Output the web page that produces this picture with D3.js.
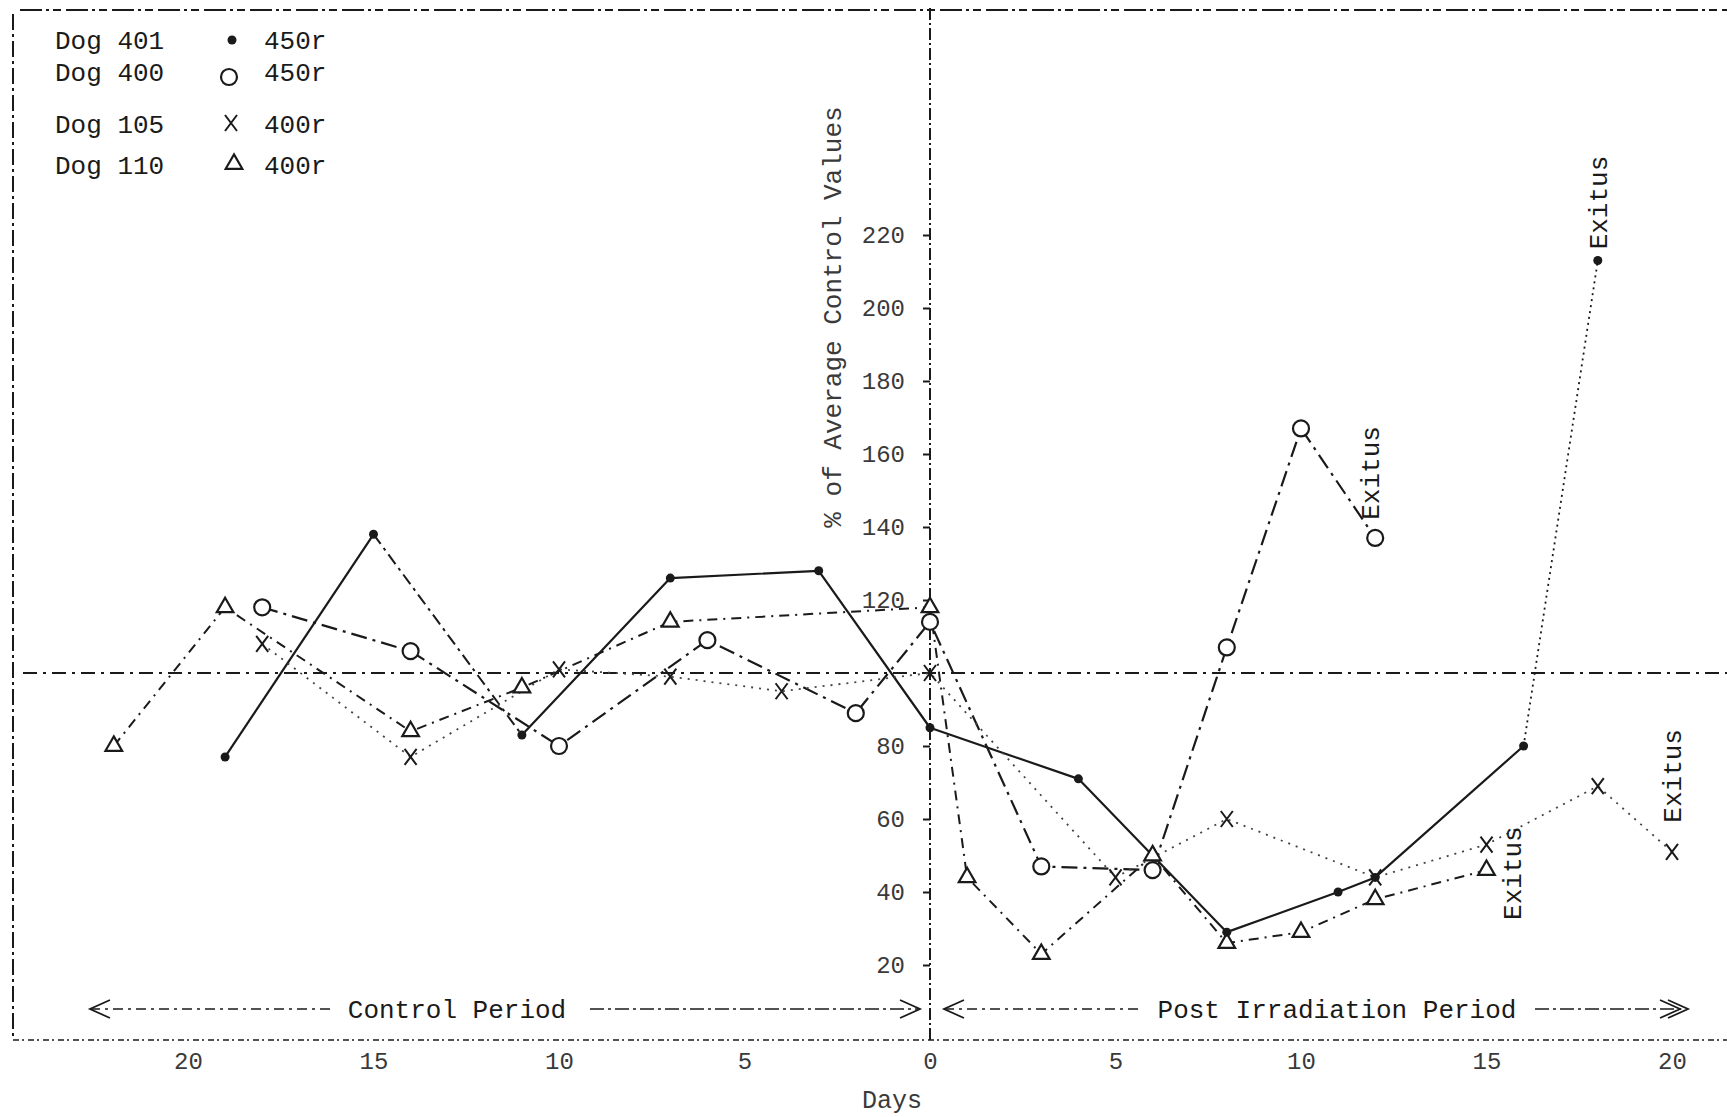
<!DOCTYPE html>
<html>
<head>
<meta charset="utf-8">
<script src="https://cdn.jsdelivr.net/npm/d3@7"></script>
<style>
  body { margin: 0; background: #fff; }
  svg { display: block; }
</style>
</head>
<body>
<svg id="chart" width="1727" height="1117"></svg>
<script>
// days relative to irradiation (negative = control period), % of average control values
const dog401Days = [-19, -15, -11, -7, -3, 0, 4, 8, 11, 12, 16, 18];
const dog401Vals = [77, 138, 83, 126, 128, 85, 71, 29, 40, 44, 80, 213];

const dog400Days = [-18, -14, -10, -6, -2, 0, 3, 6, 8, 10, 12];
const dog400Vals = [118, 106, 80, 109, 89, 114, 47, 46, 107, 167, 137];

const dog105Days = [-18, -14, -10, -7, -4, 0, 5, 8, 12, 15, 18, 20];
const dog105Vals = [108, 77, 101, 99, 95, 100, 44, 60, 44, 53, 69, 51];

const dog110Days = [-22, -19, -14, -11, -7, 0, 1, 3, 6, 8, 10, 12, 15];
const dog110Vals = [80, 118, 84, 96, 114, 118, 44, 23, 50, 26, 29, 38, 46];

const legendDogs = ["Dog 401", "Dog 400", "Dog 105", "Dog 110"];
const legendDose = ["450r", "450r", "400r", "400r"];

const yTicks = [20, 40, 60, 80, 120, 140, 160, 180, 200, 220];
const xTicks = [-20, -15, -10, -5, 0, 5, 10, 15, 20];

const font = "'Liberation Mono', 'DejaVu Sans Mono', monospace";
const ink = "#1a1a1a";
const faint = "#3a3a3a";

const svg = d3.select("#chart");

const x = d3.scaleLinear().domain([-20, 20]).range([188, 1672]);
const y = d3.scaleLinear().domain([20, 220]).range([965, 235]);

// frame: top, left, bottom
function frameLine(x1, y1, x2, y2, dash, w) {
  svg.append("line")
    .attr("x1", x1).attr("y1", y1).attr("x2", x2).attr("y2", y2)
    .style("stroke", ink)
    .style("stroke-width", w)
    .style("stroke-dasharray", dash);
}
frameLine(20, 10, 1727, 10, "22,4,3,4,8,5", 2);
frameLine(13, 14, 13, 1040, "16,4,3,4", 2);
frameLine(13, 1040, 1727, 1040, "6,3,2,4", 1.6);

// 100 % reference line
frameLine(23, y(100), 1727, y(100), "14,6,3,6", 1.8);

// vertical axis at day 0
frameLine(x(0), 8, x(0), 1040, "12,3,2,3", 2);

// y axis ticks and labels
const gy = svg.append("g")
  .attr("transform", "translate(" + x(0) + ",0)")
  .call(d3.axisLeft(y).tickValues(yTicks).tickSize(7).tickPadding(18));
gy.select(".domain").remove();
gy.selectAll("line").style("stroke", ink).style("stroke-width", 2);
gy.selectAll("text")
  .style("font-family", font)
  .style("font-size", "24px")
  .style("fill", faint);

// x axis labels
const gx = svg.append("g")
  .attr("transform", "translate(0,1040)")
  .call(d3.axisBottom(x).tickValues(xTicks).tickSize(0).tickPadding(12)
    .tickFormat(d => Math.abs(d)));
gx.select(".domain").remove();
gx.selectAll("text")
  .style("font-family", font)
  .style("font-size", "24px")
  .style("fill", faint);

svg.append("text")
  .attr("x", 892).attr("y", 1108)
  .attr("text-anchor", "middle")
  .style("font-family", font)
  .style("font-size", "25px")
  .style("fill", faint)
  .text("Days");

svg.append("text")
  .attr("transform", "translate(832,317) rotate(-90)")
  .attr("text-anchor", "middle")
  .attr("dy", "0.35em")
  .style("font-family", font)
  .style("font-size", "26px")
  .style("fill", faint)
  .text("% of Average Control Values");

// period arrows
function arrowHead(px, py, dir, doubled) {
  const n = doubled ? 2 : 1;
  for (let i = 0; i < n; i++) {
    const tip = px + dir * i * 8;
    svg.append("path")
      .attr("d", "M" + (tip - dir * 20) + "," + (py - 9) + " L" + tip + "," + py +
        " L" + (tip - dir * 20) + "," + (py + 9))
      .style("fill", "none")
      .style("stroke", ink)
      .style("stroke-width", 1.8);
  }
}
function periodText(cx, cy, label) {
  svg.append("text")
    .attr("x", cx).attr("y", cy)
    .attr("text-anchor", "middle")
    .attr("dy", "0.35em")
    .style("font-family", font)
    .style("font-size", "26px")
    .style("fill", ink)
    .text(label);
}
const arrowY = 1009;
frameLine(90, arrowY, 335, arrowY, "10,5,3,5", 1.6);
frameLine(590, arrowY, 918, arrowY, "14,4,3,4", 1.6);
arrowHead(90, arrowY, -1, false);
arrowHead(920, arrowY, 1, false);
periodText(457, arrowY, "Control Period");

frameLine(944, arrowY, 1142, arrowY, "10,5,3,5", 1.6);
frameLine(1535, arrowY, 1684, arrowY, "14,4,3,4", 1.6);
arrowHead(944, arrowY, -1, false);
arrowHead(1680, arrowY, 1, true);
periodText(1337, arrowY, "Post Irradiation Period");

// series
const line = d3.line().x(d => x(d[0])).y(d => y(d[1]));

function drawSeries(days, vals, dash, width, color) {
  svg.append("path")
    .datum(d3.zip(days, vals))
    .attr("d", line)
    .style("fill", "none")
    .style("stroke", color)
    .style("stroke-width", width)
    .style("stroke-dasharray", dash)
    .style("stroke-linejoin", "round");
}

// dog 401: solid, dashed drop after the control peak, dotted run before death
drawSeries(dog401Days.slice(0, 2), dog401Vals.slice(0, 2), null, 2.2, ink);
drawSeries(dog401Days.slice(1, 3), dog401Vals.slice(1, 3), "12,5,3,5", 2, ink);
drawSeries(dog401Days.slice(2, 11), dog401Vals.slice(2, 11), null, 2.2, ink);
drawSeries(dog401Days.slice(10), dog401Vals.slice(10), "2,4", 1.8, ink);
drawSeries(dog400Days, dog400Vals, "16,6,3,6", 2.2, ink);
drawSeries(dog105Days, dog105Vals, "2,6", 1.8, "#444");
drawSeries(dog110Days, dog110Vals, "10,6,2,6", 2, ink);

// markers
function dotMark(g, cx, cy) {
  g.append("circle").attr("cx", cx).attr("cy", cy).attr("r", 4.5).style("fill", ink);
}
function circleMark(g, cx, cy) {
  g.append("circle").attr("cx", cx).attr("cy", cy).attr("r", 8)
    .style("fill", "#fff").style("stroke", ink).style("stroke-width", 2.2);
}
function crossMark(g, cx, cy) {
  g.append("path")
    .attr("d", "M" + (cx - 6) + "," + (cy - 8) + "L" + (cx + 6) + "," + (cy + 8) +
      "M" + (cx + 6) + "," + (cy - 8) + "L" + (cx - 6) + "," + (cy + 8))
    .style("stroke", ink).style("stroke-width", 2);
}
function triMark(g, cx, cy) {
  g.append("path")
    .attr("transform", "translate(" + cx + "," + cy + ")")
    .attr("d", d3.symbol(d3.symbolTriangle, 120)())
    .style("fill", "#fff").style("stroke", ink).style("stroke-width", 2.2);
}

const marks = svg.append("g");
d3.zip(dog110Days, dog110Vals).forEach(d => triMark(marks, x(d[0]), y(d[1])));
d3.zip(dog105Days, dog105Vals).forEach(d => crossMark(marks, x(d[0]), y(d[1])));
d3.zip(dog400Days, dog400Vals).forEach(d => circleMark(marks, x(d[0]), y(d[1])));
d3.zip(dog401Days, dog401Vals).forEach(d => dotMark(marks, x(d[0]), y(d[1])));

// "Exitus" notes at each dog's last value
function exitus(cx, cy) {
  svg.append("text")
    .attr("transform", "translate(" + cx + "," + cy + ") rotate(-90)")
    .attr("text-anchor", "middle")
    .attr("dy", "0.35em")
    .style("font-family", font)
    .style("font-size", "26px")
    .style("fill", ink)
    .text("Exitus");
}
exitus(x(18), y(213) - 58);
exitus(x(12) - 5, y(137) - 65);
exitus(x(15) + 25, y(46) + 3);
exitus(x(20), y(51) - 76);

// legend
const legendY = [49, 81, 133, 174];
const legend = svg.append("g");
legendDogs.forEach((name, i) => {
  legend.append("text")
    .attr("x", 55).attr("y", legendY[i])
    .style("font-family", font)
    .style("font-size", "26px")
    .style("fill", ink)
    .text(name);
  legend.append("text")
    .attr("x", 264).attr("y", legendY[i])
    .style("font-family", font)
    .style("font-size", "26px")
    .style("fill", ink)
    .text(legendDose[i]);
});
dotMark(legend, 232, 40);
circleMark(legend, 229, 77);
crossMark(legend, 231, 123);
triMark(legend, 234, 164);
</script>
</body>
</html>
